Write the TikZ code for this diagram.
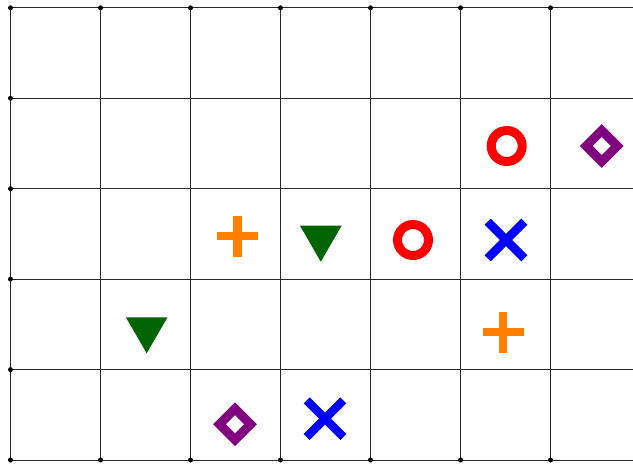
\documentclass[tikz,border=0pt]{standalone}
\definecolor{mred}{RGB}{255,0,0}
\definecolor{mpurple}{RGB}{128,0,128}
\definecolor{morange}{RGB}{255,128,0}
\definecolor{mblue}{RGB}{0,0,255}
\definecolor{mgreen}{RGB}{0,100,0}
\begin{document}
\begin{tikzpicture}[x=1pt,y=-1pt,
  gridline/.style={line width=0.9pt, black!85},
  griddot/.style={circle, fill=black, inner sep=0pt, minimum size=5pt},
  ringmark/.style={draw=mred, line width=9pt},
  diamark/.style={draw=mpurple, line width=9pt, miter limit=10},
  plusmark/.style={draw=morange, line width=8.5pt},
  xmark/.style={draw=mblue, line width=8.5pt},
  trimark/.style={fill=mgreen},
  pics/ringsym/.style={code={\draw[ringmark] (0,0) circle[radius=15.5pt];}},
  pics/diasym/.style={code={\draw[diamark] (0,-15.5) -- (15.5,0) -- (0,15.5) -- (-15.5,0) -- cycle;}},
  pics/plussym/.style={code={\draw[plusmark] (-20.5,0) -- (20.5,0) (0,-20.5) -- (0,20.5);}},
  pics/xsym/.style={code={\draw[xmark] (-18.3,-18.3) -- (18.3,18.3) (-18.3,18.3) -- (18.3,-18.3);}},
  pics/trisym/.style={code={\fill[trimark] (-20.8,-12) -- (20.8,-12) -- (0,24) -- cycle;}}
]
\useasboundingbox (0,0) rectangle (633,464);
% grid lines
\foreach \j in {0,...,5} {
  \draw[gridline] (10.5,7.8+90.45*\j) -- (633,7.8+90.45*\j);
}
\foreach \i in {0,...,6} {
  \draw[gridline] (10.5+90*\i,7.8) -- (10.5+90*\i,460);
}
% dots
\foreach \i in {0,...,6} {
  \node[griddot] (top\i) at (10.5+90*\i,7.8) {};
  \node[griddot] (bot\i) at (10.5+90*\i,460) {};
}
\foreach \j in {1,...,4} {
  \node[griddot] (left\j) at (10.5,7.8+90.45*\j) {};
}
% symbol centres
\coordinate (ring1) at (506.7,146);
\coordinate (ring2) at (413,240);
\coordinate (dia1) at (601.7,146);
\coordinate (dia2) at (235,424.3);
\coordinate (plus1) at (237.3,236);
\coordinate (plus2) at (503,332);
\coordinate (x1) at (506,240);
\coordinate (x2) at (325,418.7);
\coordinate (tri1) at (320.8,237.7);
\coordinate (tri2) at (146.7,329.3);
% symbols
\pic at (ring1) {ringsym};
\pic at (ring2) {ringsym};
\pic at (dia1) {diasym};
\pic at (dia2) {diasym};
\pic at (plus1) {plussym};
\pic at (plus2) {plussym};
\pic at (x1) {xsym};
\pic at (x2) {xsym};
\pic at (tri1) {trisym};
\pic at (tri2) {trisym};
\end{tikzpicture}
\end{document}
